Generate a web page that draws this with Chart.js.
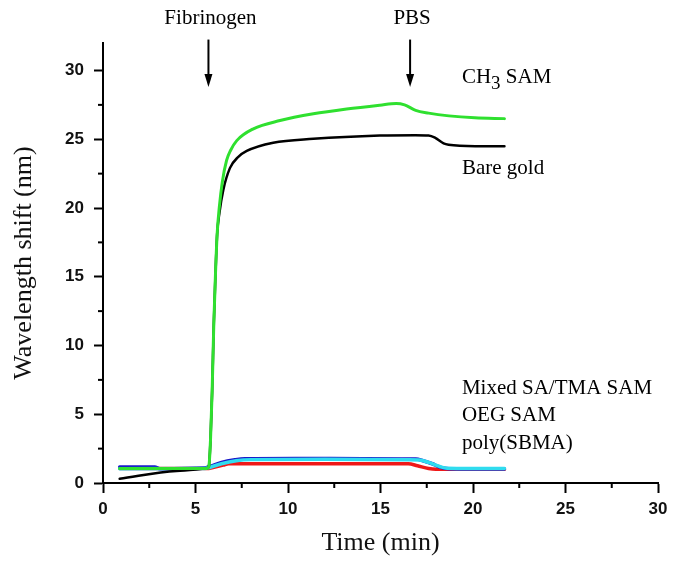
<!DOCTYPE html>
<html>
<head>
<meta charset="utf-8">
<script src="https://cdn.jsdelivr.net/npm/chart.js@4.4.1/dist/chart.umd.min.js"></script>
<style>
  html, body { margin: 0; padding: 0; background: #fff; }
  #wrap { width: 682px; height: 566px; }
</style>
</head>
<body>
<div id="wrap"><canvas id="c" width="682" height="566"></canvas></div>
<script>
// values: time (min) and wavelength shift (nm)
var ch3Time  = [0.9, 3.0, 5.6, 5.72, 5.81, 5.9, 5.99, 6.08, 6.17, 6.29, 6.45, 6.68, 6.9, 7.23, 8.13, 9.57, 11.37, 13.17, 14.97, 15.85, 16.3, 16.9, 17.6, 18.7, 20.1, 21.7];
var ch3Shift = [1.05, 1.05, 1.05, 1.2, 3.1, 6.7, 11.6, 15.2, 18.1, 20.1, 21.9, 23.46, 24.2, 24.9, 25.76, 26.36, 26.85, 27.2, 27.48, 27.6, 27.5, 27.1, 26.9, 26.7, 26.56, 26.5];

var goldTime  = [0.9, 3.97, 5.6, 5.72, 5.81, 5.9, 5.99, 6.08, 6.17, 6.3, 6.5, 6.86, 7.3, 7.77, 9.2, 11.37, 14.97, 16.88, 17.6, 17.96, 18.41, 18.68, 20.13, 21.7];
var goldShift = [0.31, 0.87, 1.05, 1.2, 3.1, 6.7, 11.6, 15.2, 18.1, 19.7, 21.3, 22.9, 23.7, 24.15, 24.75, 25.03, 25.27, 25.3, 25.28, 25.1, 24.7, 24.6, 24.5, 24.5];

var mixedTime  = [0.9, 2.8, 3.07, 5.5, 5.78, 6.41, 7.13, 7.67, 10.4, 14.0, 16.9, 17.3, 17.8, 18.2, 18.7, 20.1, 21.7];
var mixedShift = [1.16, 1.16, 1.04, 1.09, 1.21, 1.5, 1.69, 1.77, 1.79, 1.77, 1.74, 1.62, 1.4, 1.16, 1.04, 1.02, 1.02];

var oegTime  = [0.9, 5.5, 5.8, 6.4, 7.2, 8.0, 12.0, 16.5, 17.1, 17.6, 18.2, 18.6, 21.7];
var oegShift = [1.04, 1.06, 1.15, 1.4, 1.62, 1.7, 1.72, 1.7, 1.68, 1.5, 1.2, 1.08, 1.05];

var sbmaTime  = [0.9, 5.6, 6.0, 6.5, 6.8, 16.5, 17.0, 17.6, 18.0, 21.7];
var sbmaShift = [1.05, 1.05, 1.15, 1.3, 1.4, 1.4, 1.25, 1.05, 1.0, 1.0];

var timeMajor  = [0, 5, 10, 15, 20, 25, 30];
var shiftMajor = [0, 5, 10, 15, 20, 25, 30];
var minorTicks = [2.5, 7.5, 12.5, 17.5, 22.5, 27.5];

var injectNames = ['Fibrinogen', 'PBS'];
var injectTimes = [5.7, 16.6];

var curveNames = ['Bare gold', 'Mixed SA/TMA SAM', 'OEG SAM', 'poly(SBMA)'];
var curveLabelY = [22.9, 6.9, 4.94, 2.9];

function pts(t, v) {
    return t.map(function (x, i) { return { x: x, y: v[i] }; });
}

var serif = '"Liberation Serif", "Times New Roman", serif';
var sans = '"Liberation Sans", Arial, sans-serif';

var notes = {
    id: 'notes',
    afterDraw: function (chart) {
        var ctx = chart.ctx, xs = chart.scales.x, ys = chart.scales.y;
        ctx.save();
        ctx.strokeStyle = '#000';
        ctx.fillStyle = '#000';
        ctx.lineWidth = 2;
        // minor ticks
        minorTicks.forEach(function (v) {
            var px = xs.getPixelForValue(v);
            ctx.beginPath(); ctx.moveTo(px, xs.top); ctx.lineTo(px, xs.top + 5); ctx.stroke();
            var py = ys.getPixelForValue(v);
            ctx.beginPath(); ctx.moveTo(ys.right, py); ctx.lineTo(ys.right - 5, py); ctx.stroke();
        });
        // injection arrows + labels
        ctx.font = '21px ' + serif;
        ctx.textAlign = 'center';
        ctx.textBaseline = 'middle';
        injectTimes.forEach(function (t, i) {
            var px = xs.getPixelForValue(t);
            var top = ys.getPixelForValue(32.25);
            var tip = ys.getPixelForValue(28.8);
            ctx.beginPath(); ctx.moveTo(px, top); ctx.lineTo(px, tip - 10); ctx.stroke();
            ctx.beginPath();
            ctx.moveTo(px - 4, tip - 13); ctx.lineTo(px + 4, tip - 13); ctx.lineTo(px, tip);
            ctx.closePath(); ctx.fill();
            ctx.fillText(injectNames[i], px + 2, ys.getPixelForValue(33.75));
        });
        // curve labels
        ctx.textAlign = 'left';
        var lx = xs.getPixelForValue(19.4);
        var cy = ys.getPixelForValue(29.5);
        ctx.fillText('CH', lx, cy);
        var w = ctx.measureText('CH').width;
        ctx.font = '19px ' + serif;
        ctx.fillText('3', lx + w, cy + 7);
        var w3 = ctx.measureText('3').width;
        ctx.font = '21px ' + serif;
        ctx.fillText(' SAM', lx + w + w3, cy);
        curveNames.forEach(function (n, i) {
            ctx.fillText(n, lx, ys.getPixelForValue(curveLabelY[i]));
        });
        ctx.restore();
    }
};

new Chart(document.getElementById('c'), {
    type: 'line',
    data: {
        datasets: [
            { label: 'CH3 SAM', data: pts(ch3Time, ch3Shift), borderColor: '#2fe02f', borderWidth: 3 },
            { label: 'Bare gold', data: pts(goldTime, goldShift), borderColor: '#000000', borderWidth: 2.5 },
            { label: 'OEG SAM', data: pts(oegTime, oegShift), borderColor: '#30dcef', borderWidth: 3.5 },
            { label: 'Mixed SA/TMA SAM', data: pts(mixedTime, mixedShift), borderColor: '#1a1ac8', borderWidth: 3.5 },
            { label: 'poly(SBMA)', data: pts(sbmaTime, sbmaShift), borderColor: '#f01818', borderWidth: 3.5 }
        ]
    },
    options: {
        responsive: false,
        animation: false,
        devicePixelRatio: 1,
        layout: { padding: { top: 43, right: 24, left: 0, bottom: 0 } },
        elements: {
            point: { radius: 0 },
            line: { cubicInterpolationMode: 'monotone', fill: false, borderJoinStyle: 'round', borderCapStyle: 'round' }
        },
        plugins: { legend: { display: false }, tooltip: { enabled: false } },
        scales: {
            x: {
                type: 'linear', min: 0, max: 30,
                afterFit: function (s) { s.height = 83; },
                afterBuildTicks: function (s) { s.ticks = timeMajor.map(function (v) { return { value: v }; }); },
                border: { color: '#000', width: 2 },
                grid: { drawOnChartArea: false, drawTicks: true, tickLength: 10, tickWidth: 2, tickColor: '#000' },
                ticks: { color: '#111', padding: 6, maxRotation: 0, font: { family: sans, size: 17, weight: 'bold' } },
                title: { display: true, text: 'Time (min)', color: '#111', padding: { top: 0, bottom: 7 }, font: { family: serif, size: 26 } }
            },
            y: {
                type: 'linear', min: 0, max: 32,
                afterFit: function (s) { s.width = 103; },
                afterBuildTicks: function (s) { s.ticks = shiftMajor.map(function (v) { return { value: v }; }); },
                border: { color: '#000', width: 2 },
                grid: { drawOnChartArea: false, drawTicks: true, tickLength: 9, tickWidth: 2, tickColor: '#000' },
                ticks: { color: '#111', padding: 10, font: { family: sans, size: 17, weight: 'bold' } },
                title: { display: true, text: 'Wavelength shift (nm)', color: '#111', padding: { top: 9, bottom: 0 }, font: { family: serif, size: 26 } }
            }
        }
    },
    plugins: [notes]
});
</script>
</body>
</html>
